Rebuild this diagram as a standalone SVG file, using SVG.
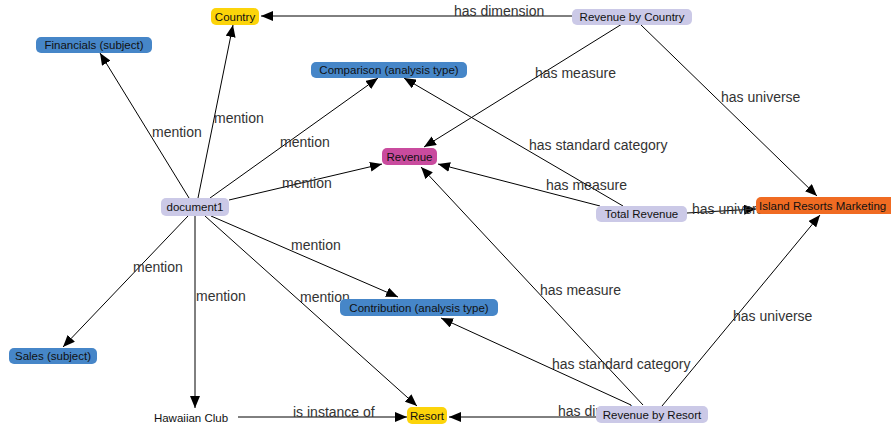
<svg xmlns="http://www.w3.org/2000/svg" width="891" height="429" viewBox="0 0 891 429">
<style>
.e{stroke:#000;stroke-width:1;fill:none;marker-end:url(#ah)}
.l{font-family:"Liberation Sans",Arial,sans-serif;font-size:14px;fill:#333}
.n{font-family:"Liberation Sans",Arial,sans-serif;font-size:11.5px;fill:#111;text-anchor:middle}
.gold{fill:#FCD40A}
.blue{fill:#4686C8}
.lav{fill:#CBC9E7}
.mag{fill:#C94B9E}
.org{fill:#F06B22}
</style>
<defs>
<marker id="ah" markerWidth="13" markerHeight="10" refX="12" refY="5" orient="auto" markerUnits="userSpaceOnUse">
<path d="M0,0 L12,5 L0,10 z" fill="#000"/>
</marker>
</defs>
<rect width="891" height="429" fill="#fff"/>
<g id="connectors">
<path class="e" d="M572,16 L261,16"/>
<path class="e" d="M622,24 L424,147"/>
<path class="e" d="M640,24 L817,196"/>
<path class="e" d="M189,198 L100,53"/>
<path class="e" d="M198,198 L233,25"/>
<path class="e" d="M210,198 L378,78"/>
<path class="e" d="M229,200 L382,164"/>
<path class="e" d="M211,216 L398,297"/>
<path class="e" d="M205,216 L417,406"/>
<path class="e" d="M195,216 L195,408"/>
<path class="e" d="M188,216 L63,347"/>
<path class="e" d="M238,417 L407,417"/>
<path class="e" d="M596,417 L449,417"/>
<path class="e" d="M631,405 L441,318"/>
<path class="e" d="M643,405 L421,167"/>
<path class="e" d="M662,406 L820,215"/>
<path class="e" d="M623,206 L404,78"/>
<path class="e" d="M600,206 L438,164"/>
<path class="e" d="M687,213 L756,209"/>
<text class="l" x="454" y="16">has dimension</text>
<text class="l" x="535" y="78">has measure</text>
<text class="l" x="721" y="102">has universe</text>
<text class="l" x="529" y="150">has standard category</text>
<text class="l" x="546" y="190">has measure</text>
<text class="l" x="692" y="214">has universe</text>
<text class="l" x="152" y="137">mention</text>
<text class="l" x="214" y="123">mention</text>
<text class="l" x="280" y="147">mention</text>
<text class="l" x="282" y="188">mention</text>
<text class="l" x="291" y="250">mention</text>
<text class="l" x="300" y="302">mention</text>
<text class="l" x="196" y="301">mention</text>
<text class="l" x="133" y="272">mention</text>
<text class="l" x="293" y="417">is instance of</text>
<text class="l" x="558" y="416">has dimension</text>
<text class="l" x="540" y="295">has measure</text>
<text class="l" x="552" y="369">has standard category</text>
<text class="l" x="733" y="321">has universe</text>
</g>
<g id="country"><rect class="gold" x="211" y="8" width="48" height="17" rx="5"/><text class="n" x="235" y="21">Country</text></g>
<g id="financials"><rect class="blue" x="36" y="37" width="116" height="16" rx="5"/><text class="n" x="94" y="49">Financials (subject)</text></g>
<g id="comparison"><rect class="blue" x="311" y="62" width="156" height="16" rx="5"/><text class="n" x="389" y="74">Comparison (analysis type)</text></g>
<g id="revenue-by-country"><rect class="lav" x="572" y="9" width="120" height="16" rx="5"/><text class="n" x="632" y="21">Revenue by Country</text></g>
<g id="revenue"><rect class="mag" x="382" y="148" width="55" height="17" rx="5"/><text class="n" x="409.5" y="161">Revenue</text></g>
<g id="document1"><rect class="lav" x="161" y="198" width="68" height="18" rx="5"/><text class="n" x="195" y="211">document1</text></g>
<g id="total-revenue"><rect class="lav" x="596" y="206" width="91" height="16" rx="5"/><text class="n" x="641.5" y="218">Total Revenue</text></g>
<g id="island-resorts-marketing"><rect class="org" x="756" y="197" width="140" height="17" rx="5"/><text class="n" x="759" y="210" style="text-anchor:start">Island Resorts Marketing</text></g>
<g id="sales"><rect class="blue" x="9" y="348" width="88" height="16" rx="5"/><text class="n" x="53" y="360">Sales (subject)</text></g>
<g id="contribution"><rect class="blue" x="340" y="299" width="158" height="17" rx="5"/><text class="n" x="419" y="312">Contribution (analysis type)</text></g>
<g id="hawaiian-club"><text class="n" x="191" y="422">Hawaiian Club</text></g>
<g id="resort"><rect class="gold" x="407" y="407" width="40" height="17" rx="5"/><text class="n" x="427" y="420">Resort</text></g>
<g id="revenue-by-resort"><rect class="lav" x="596" y="406" width="112" height="17" rx="5"/><text class="n" x="652" y="419">Revenue by Resort</text></g>
</svg>
